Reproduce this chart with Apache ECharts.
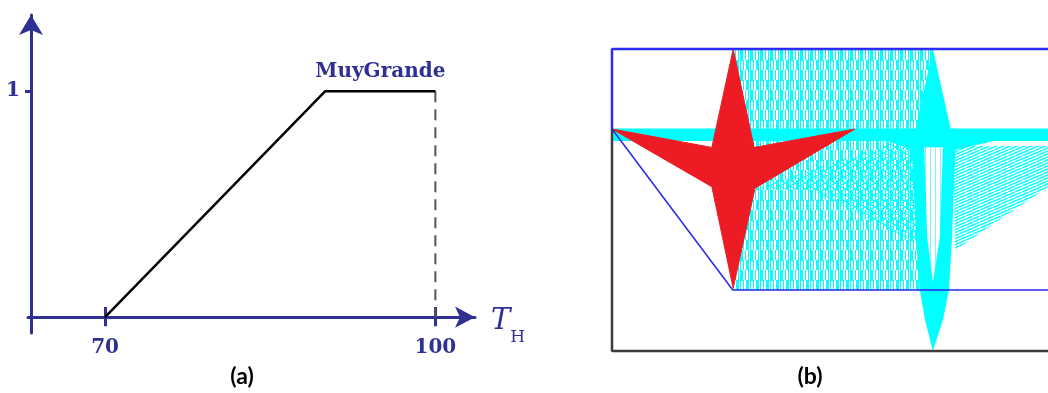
<!DOCTYPE html>
<html>
<head>
<meta charset="utf-8">
<script src="https://cdn.jsdelivr.net/npm/echarts@6/dist/echarts.min.js"></script>
<style>
  html, body { margin: 0; padding: 0; background: #ffffff; }
  #chart { width: 1048px; height: 393px; }
</style>
</head>
<body>
<div id="chart"></div>
<script>
// (a) trapezoidal membership function "MuyGrande" over T_H
const muyGrandeX = [70, 90, 100];
const muyGrandeY = [0, 1, 1];
const xTickValues = [70, 100];
const yTickValues = [1];
const setName = 'MuyGrande';
const setLabelAt = [95, 1];

// (b) shapes in a 0..100 x 0..100 frame
const redStar = [[0, 73.5], [22.9, 67.4], [27.8, 100], [32.6, 67.4], [55.7, 73.5], [32.8, 53.9], [27.8, 20.8], [22.9, 54.4]];
const cyanStar = [
  [73.6, 100], [77.8, 72.8], [100, 73.5], [78.7, 66.6], [78.0, 37.7], [77.3, 20.2], [75.9, 10.3], [73.6, 0],
  [71.8, 10.3], [70.6, 20.2], [69.7, 37.7], [68.8, 66.6], [55.7, 73.5], [69.5, 72.8]
];
const cyanHollow = [[71.6, 67.5], [75.9, 67.5], [75.2, 37.7], [73.6, 22.8], [72.3, 37.7]];
const trailZone = [[27.8, 100], [73.6, 100], [73.6, 20.2], [27.8, 20.2]];
const meshZone = [[33.3, 54.0], [66.5, 69.9], [69.7, 69.9], [69.7, 35.8], [46.1, 53.3]];
const fanZone = [[78.2, 67.9], [100, 67.9], [100, 54.3], [78.7, 33.4]];
const band = [[0, 73.7], [100, 73.7], [100, 69.5], [0, 69.5]];
const pathLine = [[0, 73.5], [27.7, 20.2], [100, 20.2]];
const frameTop = [[0, 73.5], [0, 100], [100, 100]];
const frameBottom = [[0, 73.5], [0, 0], [100, 0]];

const AXIS_BLUE = '#2e3192';
const CYAN = '#00ffff';
const RED = '#ed1c24';

// small canvas tiles used as repeating fills
function tile(w, h, draw) {
  const c = document.createElement('canvas');
  c.width = w; c.height = h;
  draw(c.getContext('2d'));
  return { image: c, repeat: 'repeat' };
}
const stripeFill = tile(10, 20, g => {
  g.fillStyle = CYAN;
  g.fillRect(0, 0, 1, 10); g.fillRect(3, 0, 1, 10); g.fillRect(6, 0, 3, 10);
  g.fillRect(0, 10, 3, 10); g.fillRect(5, 10, 1, 10); g.fillRect(8, 10, 1, 10);
  g.fillRect(0, 0, 4, 1);
});
const meshFill = tile(10, 6, g => {
  g.strokeStyle = CYAN; g.lineWidth = 1;
  g.beginPath();
  g.moveTo(0, 0); g.lineTo(10, 6);
  g.moveTo(0, 6); g.lineTo(10, 0);
  g.stroke();
});
const fanFill = tile(14, 6, g => {
  g.strokeStyle = CYAN; g.lineWidth = 1.4;
  g.beginPath();
  g.moveTo(0, 6); g.lineTo(14, 0);
  g.moveTo(0, 3); g.lineTo(7, 0);
  g.moveTo(7, 6); g.lineTo(14, 3);
  g.stroke();
});
const hollowFill = tile(5, 4, g => {
  g.fillStyle = '#ffffff'; g.fillRect(0, 0, 5, 4);
  g.fillStyle = '#7ff7f7'; g.fillRect(0, 0, 1, 4);
});

function zone(points, style, z) {
  return {
    type: 'custom', xAxisIndex: 2, yAxisIndex: 1, clip: true, silent: true, z: z,
    data: [[0, 0]],
    renderItem: (params, api) => ({
      type: 'polygon',
      shape: { points: points.map(p => api.coord(p)) },
      style: style
    })
  };
}
function frameLine(points, color, width, z) {
  return {
    type: 'line', xAxisIndex: 2, yAxisIndex: 1, data: points, symbol: 'none', clip: false, silent: true, z: z,
    lineStyle: { color: color, width: width }
  };
}

const serifBold = { fontFamily: 'DejaVu Serif', fontWeight: 'bold', fontSize: 20, color: AXIS_BLUE };
const axisLineStyle = { color: AXIS_BLUE, width: 3 };

const chart = echarts.init(document.getElementById('chart'), null, { renderer: 'canvas' });
chart.setOption({
  animation: false,
  grid: [
    { left: 28, top: 15, width: 447, height: 318 },
    { left: 612, top: 49, right: 0, bottom: 42 }
  ],
  xAxis: [
    {
      gridIndex: 0, type: 'value', min: 63, max: 103.6, position: 'bottom',
      axisLine: { onZero: true, lineStyle: axisLineStyle, symbol: ['none', 'arrow'], symbolSize: [16, 20] },
      axisTick: { customValues: xTickValues, length: 9, lineStyle: axisLineStyle },
      axisLabel: Object.assign({ customValues: xTickValues, margin: 5 }, serifBold),
      splitLine: { show: false },
      name: '{t|T}{h|H}', nameLocation: 'end', nameGap: 16,
      nameTextStyle: {
        color: AXIS_BLUE,
        rich: {
          t: { fontFamily: 'DejaVu Serif', fontStyle: 'italic', fontSize: 29, lineHeight: 29, color: AXIS_BLUE, padding: [20, 0, 11, 0] },
          h: { fontFamily: 'DejaVu Serif', fontSize: 17, lineHeight: 17, color: AXIS_BLUE, padding: [42, 0, 1, 0] }
        }
      }
    },
    {
      // upper halves of the x ticks, sitting on the zero line
      gridIndex: 0, type: 'value', min: 63, max: 103.6, position: 'bottom', offset: -16,
      axisLine: { show: false, onZero: false },
      axisTick: { customValues: xTickValues, inside: true, length: 10, lineStyle: axisLineStyle },
      axisLabel: { show: false },
      splitLine: { show: false }
    },
    { gridIndex: 1, type: 'value', min: 0, max: 100, show: false }
  ],
  yAxis: [
    {
      gridIndex: 0, type: 'value', min: -0.07, max: 1.337, offset: -3,
      axisLine: { show: true, lineStyle: axisLineStyle, symbol: ['none', 'arrow'], symbolSize: [18, 20] },
      axisTick: { show: true, customValues: yTickValues, length: 6, lineStyle: axisLineStyle },
      axisLabel: Object.assign({ customValues: yTickValues, margin: 11 }, serifBold),
      splitLine: { show: false }
    },
    { gridIndex: 1, type: 'value', min: 0, max: 100, show: false }
  ],
  series: [
    {
      type: 'line', xAxisIndex: 0, yAxisIndex: 0, symbol: 'none', z: 5,
      data: muyGrandeX.map((x, i) => [x, muyGrandeY[i]]),
      lineStyle: { color: '#000000', width: 2.5 }
    },
    {
      type: 'line', xAxisIndex: 0, yAxisIndex: 0, symbol: 'none', z: 4,
      data: [[muyGrandeX[2], muyGrandeY[2]], [muyGrandeX[2], 0]],
      lineStyle: { color: '#555555', width: 2, type: [11, 7] }
    },
    {
      type: 'scatter', xAxisIndex: 0, yAxisIndex: 0, symbolSize: 0, z: 5,
      itemStyle: { opacity: 1 },
      data: [setLabelAt],
      label: {
        show: true, position: 'top', distance: 9, formatter: setName, opacity: 1, textBorderWidth: 0,
        fontFamily: 'DejaVu Serif', fontWeight: 'bold', fontSize: 20, color: AXIS_BLUE
      }
    },
    zone(trailZone, { fill: stripeFill }, 1),
    zone(meshZone, { fill: meshFill }, 2),
    zone(fanZone, { fill: fanFill }, 2),
    zone(band, { fill: CYAN }, 3),
    zone(cyanStar, { fill: CYAN }, 4),
    zone(cyanHollow, { fill: hollowFill }, 5),
    zone(redStar, { fill: RED, stroke: RED, lineWidth: 1 }, 6),
    frameLine(pathLine, '#2626ee', 1.5, 8),
    frameLine(frameTop, '#2b2bff', 2.5, 8),
    frameLine(frameBottom, '#3c3c3c', 2.5, 8)
  ],
  graphic: [
    { type: 'text', x: 242, y: 377, style: { text: '(a)', align: 'center', verticalAlign: 'middle', font: 'bold 23px Lato', fill: '#000000' } },
    { type: 'text', x: 810, y: 377, style: { text: '(b)', align: 'center', verticalAlign: 'middle', font: 'bold 23px Lato', fill: '#000000' } }
  ]
});
</script>
</body>
</html>
